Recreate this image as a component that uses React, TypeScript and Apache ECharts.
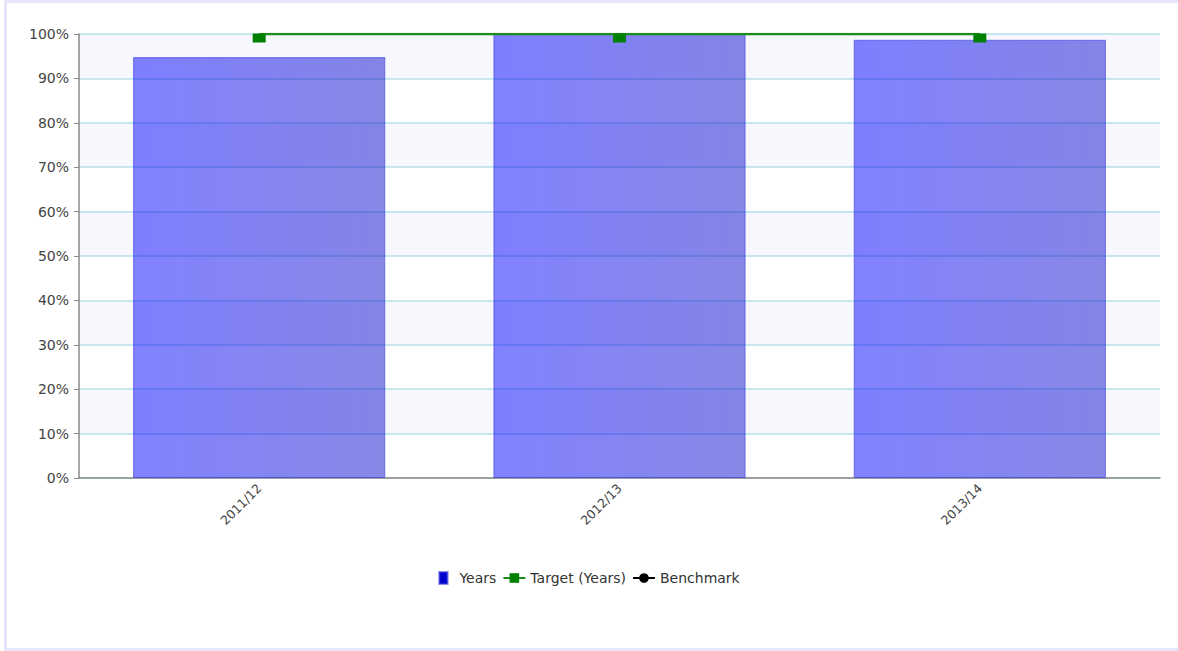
import React, { useEffect, useRef } from "react";
import * as echarts from "echarts";

// Financial years shown on the category axis
const categories: string[] = ["2011/12", "2012/13", "2013/14"];
// Achieved percentage per year
const yearsValues: number[] = [94.8, 100, 98.7];
// Target percentage per year
const targetValues: number[] = [100, 100, 100];
// Benchmark percentage per year
const benchmarkValues: number[] = [100, 100, 100];

const FONT = "DejaVu Sans, Verdana, sans-serif";

export default function App() {
  const ref = useRef<HTMLDivElement>(null);

  useEffect(() => {
    if (!ref.current) return;
    const chart = echarts.init(ref.current, undefined, { renderer: "svg" });

    const option: echarts.EChartsOption = {
      animation: false,
      backgroundColor: "#ffffff",
      textStyle: { fontFamily: FONT },
      graphic: [
        {
          type: "rect",
          silent: true,
          z: -10,
          shape: { x: 5.5, y: 1.5, width: 1190, height: 648 },
          style: { fill: "none", stroke: "#e6e6fa", lineWidth: 3 },
        },
      ],
      grid: { left: 79, right: 18, top: 34, bottom: 173 },
      legend: {
        left: "center",
        top: 566,
        itemGap: 6,
        itemWidth: 22,
        itemHeight: 12,
        textStyle: { fontFamily: FONT, fontSize: 14, color: "#333" },
        data: [
          {
            name: "Years",
            icon: "path://M0,0h9v13h-9z",
            itemStyle: { color: "#0000cc" },
          },
          { name: "Target (Years)" },
          { name: "Benchmark" },
        ],
      },
      xAxis: {
        type: "category",
        data: categories,
        axisLine: { lineStyle: { color: "#8a8a8a", width: 1.5 } },
        axisTick: { alignWithLabel: true, length: 5, lineStyle: { color: "#8a8a8a" } },
        axisLabel: {
          rotate: 45,
          fontSize: 12.5,
          color: "#444",
          margin: 8,
          fontFamily: FONT,
        },
        splitLine: { show: false },
      },
      yAxis: {
        type: "value",
        min: 0,
        max: 100,
        interval: 10,
        axisLine: { show: true, lineStyle: { color: "#8a8a8a", width: 1.5 } },
        axisTick: { show: true, length: 5, lineStyle: { color: "#8a8a8a" } },
        axisLabel: {
          formatter: "{value}%",
          fontSize: 14,
          color: "#444",
          margin: 10,
          fontFamily: FONT,
        },
        splitLine: { show: true, lineStyle: { color: "#b4e1e8", width: 1.5 } },
        splitArea: { show: true, areaStyle: { color: ["#ffffff", "#f7f8fd"] } },
      },
      series: [
        {
          name: "Years",
          type: "bar",
          data: yearsValues,
          barWidth: "70%",
          itemStyle: {
            color: new echarts.graphic.LinearGradient(0, 0, 1, 0, [
              { offset: 0, color: "rgba(0,0,255,0.49)" },
              { offset: 1, color: "rgba(12,12,205,0.49)" },
            ]),
            borderColor: "rgba(60,60,225,0.6)",
            borderWidth: 1,
          },
        },
        {
          name: "Benchmark",
          type: "line",
          data: benchmarkValues,
          symbol: "circle",
          symbolSize: 0,
          itemStyle: { color: "#000000" },
          lineStyle: { color: "#000000", width: 1 },
          z: 3,
        },
        {
          name: "Target (Years)",
          type: "line",
          data: targetValues,
          symbol: "rect",
          symbolSize: [13, 9],
          symbolOffset: [0, 4],
          itemStyle: { color: "#008000" },
          lineStyle: { color: "#1e8c1e", width: 2.5 },
          z: 4,
        },
      ],
    };

    chart.setOption(option);
    return () => chart.dispose();
  }, []);

  return (
    <div
      ref={ref}
      style={{ position: "fixed", left: 0, top: 0, width: 1178, height: 651 }}
    />
  );
}
